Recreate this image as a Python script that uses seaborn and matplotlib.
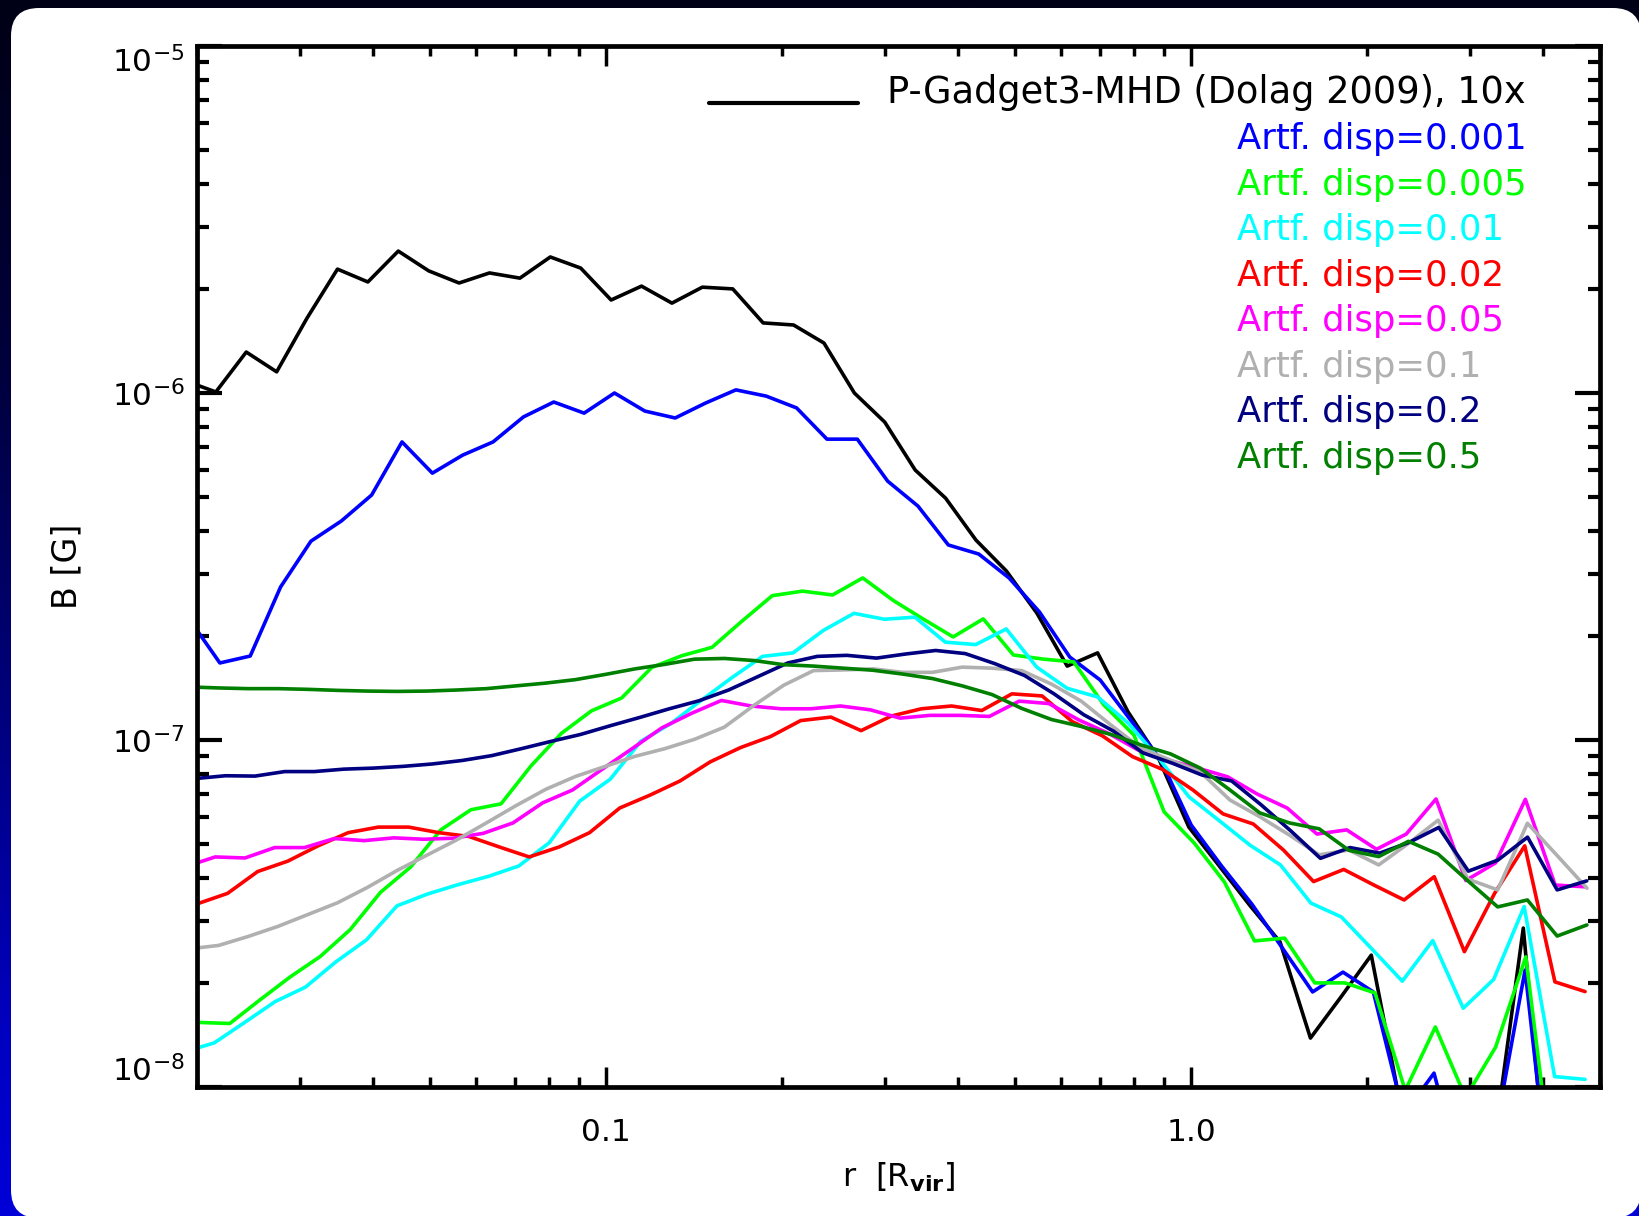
import numpy as np
import pandas as pd
import matplotlib
matplotlib.use("Agg")
import matplotlib.pyplot as plt
import matplotlib.ticker as mticker
from matplotlib.patches import FancyBboxPatch
from matplotlib.colors import LinearSegmentedColormap
from matplotlib.lines import Line2D
import seaborn as sns

# ---------------- data ----------------
series_labels = ["P-Gadget3-MHD (Dolag 2009), 10x",
                 "Artf. disp=0.001", "Artf. disp=0.005", "Artf. disp=0.01",
                 "Artf. disp=0.02", "Artf. disp=0.05", "Artf. disp=0.1",
                 "Artf. disp=0.2", "Artf. disp=0.5"]
series_colors = ["#000000", "#0000ff", "#00ff00", "#00ffff", "#ff0000",
                 "#ff00ff", "#b0b0b0", "#000080", "#007f00"]

# first / last radial bin (r / R_vir) of each run; bins are log-spaced
r_range_black = [0.01911, 4.697]
r_range_blue = [0.01942, 4.728]
r_range_green = [0.02021, 4.733]
r_range_cyan = [0.01898, 4.715]
r_range_red = [0.02003, 4.715]
r_range_magenta = [0.01911, 4.712]
r_range_gray = [0.01937, 4.749]
r_range_navy = [0.01991, 4.746]
r_range_dkgreen = [0.01937, 4.749]

# log10(B / G) per radial bin
log10_B_black = [-5.965, -5.997, -5.882, -5.939, -5.784, -5.643, -5.680, -5.591, -5.648, -5.683,
                 -5.654, -5.669, -5.608, -5.640, -5.732, -5.692, -5.741, -5.695, -5.700, -5.798,
                 -5.804, -5.856, -6.000, -6.084, -6.222, -6.303, -6.424, -6.513, -6.634, -6.787,
                 -6.749, -6.919, -7.052, -7.251, -7.363, -7.476, -7.582, -7.859, -7.741, -7.620,
                 -8.07, -8.30, -8.30, -8.19, -7.542, -8.49, -8.50]
log10_B_blue = [-6.653, -6.778, -6.758, -6.559, -6.427, -6.369, -6.294, -6.141, -6.231, -6.179,
                -6.141, -6.069, -6.026, -6.058, -6.000, -6.052, -6.072, -6.029, -5.991, -6.009,
                -6.043, -6.133, -6.133, -6.254, -6.326, -6.438, -6.464, -6.533, -6.631, -6.761,
                -6.827, -6.942, -7.058, -7.245, -7.363, -7.473, -7.599, -7.726, -7.669, -7.726,
                -8.08, -7.96, -8.29, -8.14, -7.663, -8.455, -8.50]
log10_B_green = [-7.814, -7.817, -7.749, -7.683, -7.624, -7.546, -7.439, -7.366, -7.259, -7.201,
                 -7.184, -7.074, -6.981, -6.916, -6.879, -6.791, -6.757, -6.733, -6.657, -6.584,
                 -6.571, -6.582, -6.533, -6.597, -6.651, -6.703, -6.651, -6.755, -6.767, -6.775,
                 -6.899, -6.986, -7.207, -7.297, -7.409, -7.579, -7.571, -7.700, -7.700, -7.729,
                 -8.01, -7.827, -8.03, -7.885, -7.625, -8.326, -8.50]
log10_B_cyan = [-7.899, -7.873, -7.814, -7.754, -7.712, -7.639, -7.576, -7.478, -7.444, -7.417,
                -7.393, -7.363, -7.296, -7.176, -7.113, -7.004, -6.952, -6.885, -6.820, -6.759,
                -6.749, -6.684, -6.635, -6.652, -6.646, -6.718, -6.725, -6.680, -6.790, -6.851,
                -6.876, -6.951, -7.052, -7.164, -7.233, -7.303, -7.360, -7.470, -7.510, -7.602,
                -7.695, -7.578, -7.773, -7.690, -7.480, -7.970, -7.978]
log10_B_red = [-7.472, -7.442, -7.379, -7.349, -7.305, -7.267, -7.251, -7.251, -7.267, -7.278,
               -7.308, -7.337, -7.308, -7.267, -7.196, -7.159, -7.118, -7.063, -7.022, -6.990,
               -6.944, -6.934, -6.973, -6.931, -6.910, -6.902, -6.915, -6.867, -6.873, -6.947,
               -6.988, -7.048, -7.085, -7.144, -7.213, -7.242, -7.317, -7.408, -7.373, -7.418,
               -7.461, -7.394, -7.610, -7.442, -7.305, -7.697, -7.725]
log10_B_magenta = [-7.365, -7.337, -7.340, -7.310, -7.310, -7.284, -7.290, -7.282, -7.286, -7.283,
                   -7.269, -7.239, -7.181, -7.144, -7.084, -7.025, -6.965, -6.923, -6.886, -6.902,
                   -6.910, -6.910, -6.902, -6.913, -6.937, -6.929, -6.929, -6.932, -6.888, -6.895,
                   -6.942, -6.981, -7.029, -7.058, -7.081, -7.106, -7.156, -7.196, -7.271, -7.259,
                   -7.315, -7.271, -7.170, -7.405, -7.354, -7.171, -7.418, -7.423]
log10_B_gray = [-7.602, -7.592, -7.566, -7.537, -7.503, -7.469, -7.425, -7.376, -7.332, -7.288,
                -7.239, -7.189, -7.142, -7.105, -7.076, -7.047, -7.025, -6.998, -6.963, -6.900,
                -6.842, -6.800, -6.798, -6.795, -6.805, -6.805, -6.790, -6.793, -6.800, -6.839,
                -6.888, -6.957, -7.023, -7.058, -7.092, -7.173, -7.221, -7.274, -7.331, -7.317,
                -7.360, -7.298, -7.231, -7.401, -7.432, -7.240, -7.333, -7.427]
log10_B_navy = [-7.111, -7.103, -7.104, -7.091, -7.091, -7.084, -7.081, -7.076, -7.069, -7.059,
                -7.045, -7.025, -7.004, -6.984, -6.959, -6.935, -6.910, -6.887, -6.856, -6.817,
                -6.778, -6.759, -6.756, -6.764, -6.752, -6.742, -6.751, -6.780, -6.814, -6.867,
                -6.927, -6.974, -7.037, -7.067, -7.101, -7.118, -7.187, -7.262, -7.341, -7.310,
                -7.326, -7.295, -7.252, -7.378, -7.346, -7.280, -7.432, -7.406]
log10_B_dkgreen = [-6.847, -6.850, -6.852, -6.852, -6.854, -6.857, -6.859, -6.860, -6.859, -6.856,
                   -6.852, -6.844, -6.836, -6.826, -6.811, -6.795, -6.782, -6.767, -6.765, -6.771,
                   -6.783, -6.787, -6.793, -6.799, -6.810, -6.823, -6.844, -6.869, -6.909, -6.941,
                   -6.961, -6.984, -7.014, -7.040, -7.081, -7.144, -7.210, -7.239, -7.256, -7.318,
                   -7.336, -7.292, -7.329, -7.406, -7.481, -7.461, -7.565, -7.533]

x_ticks = [0.1, 1.0]
y_ticks = [1e-8, 1e-7, 1e-6, 1e-5]

# ---------------- build table ----------------
runs = [(r_range_black, log10_B_black), (r_range_blue, log10_B_blue),
        (r_range_green, log10_B_green), (r_range_cyan, log10_B_cyan),
        (r_range_red, log10_B_red), (r_range_magenta, log10_B_magenta),
        (r_range_gray, log10_B_gray), (r_range_navy, log10_B_navy),
        (r_range_dkgreen, log10_B_dkgreen)]
frames = []
for lab, (rr, lb) in zip(series_labels, runs):
    r = np.geomspace(rr[0], rr[1], len(lb))
    frames.append(pd.DataFrame({"r": r, "B": 10.0 ** np.asarray(lb), "run": lab}))
df = pd.concat(frames, ignore_index=True)

# ---------------- style ----------------
sns.set_theme(style="white")
plt.rcParams["font.family"] = ["DejaVu Sans"]
plt.rcParams["mathtext.default"] = "regular"
for k in ["text.color", "axes.labelcolor", "xtick.color", "ytick.color", "axes.edgecolor"]:
    plt.rcParams[k] = "black"

W, H = 1639, 1216
fig = plt.figure(figsize=(W / 100, H / 100), dpi=100)

# background: blue gradient frame + white rounded panel
bg = fig.add_axes([0, 0, 1, 1], zorder=-10)
bg.set_xlim(0, W)
bg.set_ylim(0, H)
bg.axis("off")
cmap = LinearSegmentedColormap.from_list(
    "frame", [(0.0, "#000016"), (0.3, "#00003c"), (0.6, "#000080"), (0.85, "#0000c0"), (1.0, "#0000d8")])
grad = np.linspace(0, 1, 512).reshape(-1, 1)
bg.imshow(grad, extent=[0, W, 0, H], aspect="auto", cmap=cmap, origin="upper", zorder=0)
bg.add_patch(FancyBboxPatch((11, -2), W - 9, H - 8 + 2,
                            boxstyle="round,pad=0,rounding_size=28",
                            facecolor="white", edgecolor="none", zorder=1))

ax = fig.add_axes([197 / W, 1 - 1087 / H, (1600 - 197) / W, (1087 - 46) / H])
ax.set_facecolor("white")
ax.set_xscale("log")
ax.set_yscale("log")

sns.lineplot(data=df, x="r", y="B", hue="run", hue_order=series_labels,
             palette=series_colors, estimator=None, sort=False,
             linewidth=2.6, legend=False, ax=ax)

ax.set_xlim(0.02, 5.0)
ax.set_ylim(1e-8, 1e-5)

ax.xaxis.set_major_locator(mticker.FixedLocator(x_ticks))
ax.xaxis.set_major_formatter(mticker.FuncFormatter(lambda v, p: f"{v:.1f}"))
ax.xaxis.set_minor_locator(mticker.LogLocator(base=10, subs=np.arange(2, 10), numticks=50))
ax.xaxis.set_minor_formatter(mticker.NullFormatter())
ax.yaxis.set_major_locator(mticker.FixedLocator(y_ticks))
ax.yaxis.set_major_formatter(mticker.LogFormatterSciNotation())
ax.yaxis.set_minor_locator(mticker.LogLocator(base=10, subs=np.arange(2, 10), numticks=50))
ax.yaxis.set_minor_formatter(mticker.NullFormatter())

ax.tick_params(which="both", direction="in", top=True, right=True, bottom=True, left=True)
ax.tick_params(axis="y", which="major", length=18, width=3, pad=9, labelsize=22.5)
ax.tick_params(axis="y", which="minor", length=8.5, width=3)
ax.tick_params(axis="x", which="major", length=14.5, width=2.5, pad=22, labelsize=22.5)
ax.tick_params(axis="x", which="minor", length=7, width=2.5)
for s in ax.spines.values():
    s.set_linewidth(3.4)
    s.set_color("black")
ax.grid(False)

ax.set_xlabel(r"r  [R$_{\mathbf{vir}}$]", fontsize=23, labelpad=10)
ax.set_ylabel("B [G]", fontsize=24, labelpad=20)

yt = ax.yaxis.get_major_ticks()
yt[0].label1.set_va("bottom")
yt[-1].label1.set_va("top")

# legend (drawn as in the original: line key for the first entry, coloured text for the rest)
ax.add_line(Line2D([0.3647, 0.4711], [0.9450, 0.9450], transform=ax.transAxes,
                   color="black", lw=3, clip_on=False))
ax.text(0.4916, 0.9450, series_labels[0], transform=ax.transAxes, fontsize=26.5,
        color="black", ha="left", va="baseline")
for k, (lab, col) in enumerate(zip(series_labels[1:], series_colors[1:])):
    ax.text(0.7413, 0.9007 - 0.04371 * k, lab, transform=ax.transAxes, fontsize=25.5,
            color=col, ha="left", va="baseline")

fig.savefig("out.png", dpi=100)
